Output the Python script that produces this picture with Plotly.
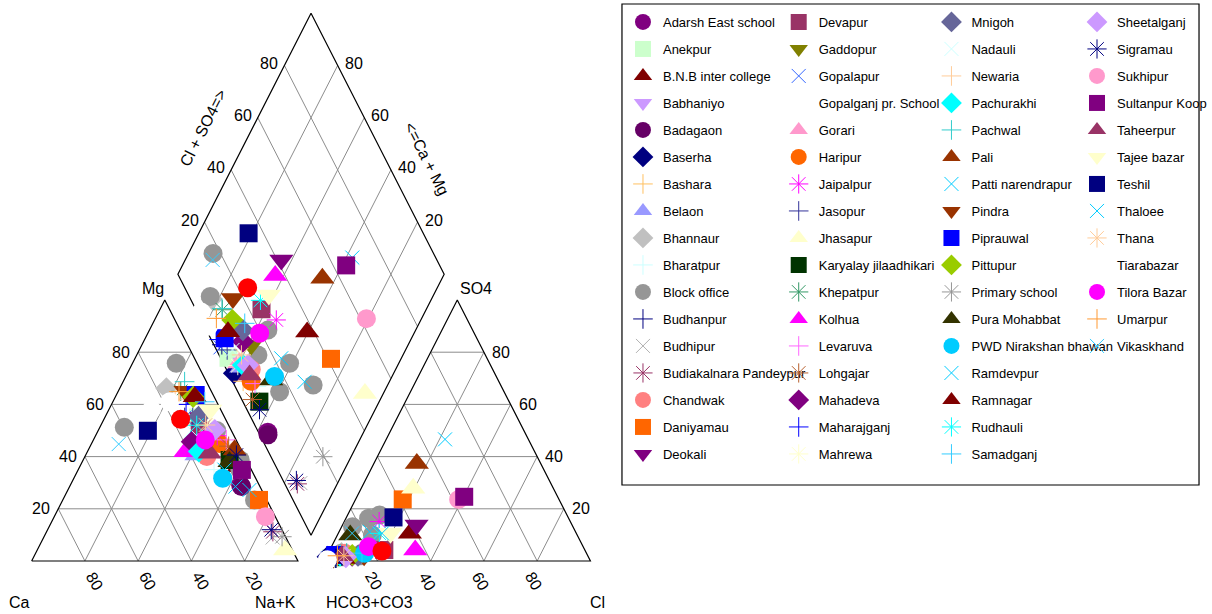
import plotly.graph_objects as go

# ---------------------------------------------------------------- legend / styles
sites = [
    "Adarsh East school", "Anekpur", "B.N.B inter college", "Babhaniyo", "Badagaon",
    "Baserha", "Bashara", "Belaon", "Bhannaur", "Bharatpur", "Block office",
    "Budhanpur", "Budhipur", "Budiakalnara Pandeypur", "Chandwak", "Daniyamau", "Deokali",
    "Devapur", "Gaddopur", "Gopalapur", "Gopalganj pr. School", "Gorari", "Haripur",
    "Jaipalpur", "Jasopur", "Jhasapur", "Karyalay jilaadhikari", "Khepatpur", "Kolhua",
    "Levaruva", "Lohgajar", "Mahadeva", "Maharajganj", "Mahrewa",
    "Mnigoh", "Nadauli", "Newaria", "Pachurakhi", "Pachwal", "Pali", "Patti narendrapur",
    "Pindra", "Piprauwal", "Pittupur", "Primary school", "Pura Mohabbat",
    "PWD Nirakshan bhawan", "Ramdevpur", "Ramnagar", "Rudhauli", "Samadganj",
    "Sheetalganj", "Sigramau", "Sukhipur", "Sultanpur Koop", "Taheerpur", "Tajee bazar",
    "Teshil", "Thaloee", "Thana", "Tiarabazar", "Tilora Bazar", "Umarpur", "Vikaskhand",
]
site_colors = [
    "#800080", "#CCFFCC", "#800000", "#CC99FF", "#660066",
    "#000080", "#FFC060", "#9999FF", "#C0C0C0", "#CCFFFF", "#969696",
    "#000080", "#B2B2B2", "#993366", "#FF8080", "#FF6600", "#800080",
    "#993366", "#808000", "#3366FF", "#FFFFFF", "#FF99CC", "#FF6600",
    "#FF00FF", "#333399", "#FFFFCC", "#003300", "#339966", "#FF00FF",
    "#FF66FF", "#B8602E", "#800080", "#0000FF", "#FFFFCC",
    "#666699", "#CCFFFF", "#FFCC99", "#00FFFF", "#33CCCC", "#993300", "#00CCFF",
    "#993300", "#0000FF", "#99CC00", "#969696", "#333300",
    "#00CCFF", "#00CCFF", "#800000", "#00FFFF", "#33CCFF",
    "#CC99FF", "#000080", "#FF99CC", "#800080", "#993366", "#FFFFCC",
    "#000080", "#00CCFF", "#FFCC99", "#FFFFFF", "#FF00FF", "#FF9933", "#33CCFF",
]
site_symbols = [
    "circle", "square", "triangle-up", "triangle-down", "circle",
    "diamond", "cross-thin-open", "triangle-up", "diamond", "cross-thin-open", "circle",
    "cross-thin-open", "x-thin-open", "asterisk-open", "circle", "square", "triangle-down",
    "square", "triangle-down", "x-thin-open", "circle", "triangle-up", "circle",
    "asterisk-open", "cross-thin-open", "triangle-up", "square", "asterisk-open", "triangle-up",
    "cross-thin-open", "asterisk-open", "diamond", "cross-thin-open", "asterisk-open",
    "diamond", "x-thin-open", "cross-thin-open", "diamond", "cross-thin-open", "triangle-up",
    "x-thin-open",
    "triangle-down", "square", "diamond", "asterisk-open", "triangle-up",
    "circle", "x-thin-open", "triangle-up", "asterisk-open", "cross-thin-open",
    "diamond", "asterisk-open", "circle", "square", "triangle-up", "triangle-down",
    "square", "x-thin-open", "asterisk-open", "circle", "circle", "cross-thin-open",
    "x-thin-open",
]
legend_rows = 17  # entries per legend column

# ---------------------------------------------------------------- samples (meq %)
sample_site = [
    "Adarsh East school", "Anekpur", "B.N.B inter college", "Babhaniyo", "Badagaon",
    "Baserha", "Bashara", "Belaon", "Bhannaur", "Bharatpur",
    "Block office", "Block office", "Block office", "Block office", "Block office",
    "Block office", "Block office",
    "Budhanpur", "Budhipur", "Budiakalnara Pandeypur", "Chandwak", "Daniyamau", "Deokali",
    "Devapur", "Gaddopur", "Gopalapur", "Gopalganj pr. School", "Gorari", "Haripur",
    "Jaipalpur", "Jasopur", "Jhasapur", "Karyalay jilaadhikari", "Khepatpur", "Kolhua",
    "Levaruva", "Lohgajar", "Mahadeva", "Maharajganj", "Mahrewa",
    "Mnigoh", "Nadauli", "Newaria", "Pachurakhi", "Pachwal", "Pali", "Patti narendrapur",
    "Pindra", "Piprauwal", "Pittupur", "Primary school", "Pura Mohabbat",
    "PWD Nirakshan bhawan", "Ramdevpur", "Ramnagar", "Rudhauli", "Samadganj",
    "Sheetalganj", "Sigramau", "Sigramau", "Sukhipur", "Sultanpur Koop", "Taheerpur",
    "Tajee bazar", "Teshil", "Thaloee", "Thana", "Tiarabazar", "Tilora Bazar", "Umarpur",
    "Vikaskhand", "",
]
ca = [
    7.0, 10.0, 4.3, 13.0, 6.9,
    12.0, 10.0, 17.8, 16.3, 14.0,
    39.6, 7.8, 9.5, 2.3, 4.6,
    4.3, 5.5,
    15.0, 5.0, 3.8, 14.2, 2.9, 8.9,
    11.9, 12.9, 15.0, 26.0, 15.0, 7.0,
    6.3, 12.0, 2.7, 6.3, 11.5, 21.3,
    3.7, 4.0, 17.0, 12.0, 8.0,
    9.6, 15.0, 15.1, 16.2, 8.2, 2.5, 9.2,
    9.7, 6.6, 7.9, 1.3, 6.7,
    12.4, 10.1, 7.3, 12.0, 4.5,
    6.1, 2.8, 4.0, 3.7, 3.6, 12.5,
    4.0, 31.4, 4.6, 8.6, 17.6, 11.6, 12.2,
    44.9, 16.9,
]
mg = [
    29.0, 55.0, 36.1, 45.0, 28.5,
    48.0, 45.0, 40.6, 66.2, 35.0,
    51.2, 75.8, 45.0, 38.7, 23.4,
    35.0, 50.0,
    55.0, 9.0, 11.2, 40.0, 23.4, 55.0,
    50.0, 46.0, 55.0, 58.0, 45.0, 45.0,
    48.0, 55.0, 4.2, 38.7, 65.0, 41.9,
    46.4, 44.0, 45.7, 60.0, 52.0,
    55.3, 50.0, 62.0, 42.0, 68.7, 42.5, 28.5,
    65.0, 63.6, 62.9, 9.3, 38.0,
    31.7, 35.0, 62.9, 52.0, 61.0,
    50.2, 40.6, 12.0, 17.0, 34.9, 41.3,
    57.9, 49.9, 27.2, 52.1, 61.0, 46.4, 64.9,
    44.8, 54.3,
]
na_k = [
    64.0, 35.0, 59.6, 42.0, 64.6,
    40.0, 45.0, 41.6, 17.5, 51.0,
    9.2, 16.4, 45.5, 59.0, 72.0,
    60.7, 44.5,
    30.0, 86.0, 85.0, 45.8, 73.7, 36.1,
    38.1, 41.1, 30.0, 16.0, 40.0, 48.0,
    45.7, 33.0, 93.1, 55.0, 23.5, 36.8,
    49.9, 52.0, 37.3, 28.0, 40.0,
    35.1, 35.0, 22.9, 41.8, 23.1, 55.0, 62.3,
    25.3, 29.8, 29.2, 89.4, 55.3,
    55.9, 54.9, 29.8, 36.0, 34.5,
    43.7, 56.6, 84.0, 79.3, 61.5, 46.2,
    38.1, 18.7, 68.2, 39.3, 21.4, 42.0, 22.9,
    10.3, 28.8,
]
hco3 = [
    96.5, 97.0, 62.5, 92.0, 96.9,
    97.9, 96.0, 94.0, 92.0, 92.0,
    82.8, 92.1, 85.4, 75.1, 70.4,
    84.3, 76.9,
    97.0, 94.0, 95.3, 90.7, 58.7, 58.4,
    75.3, 86.0, 98.0, 98.5, 94.0, 93.0,
    71.8, 96.0, 52.6, 93.8, 90.1, 63.7,
    92.0, 96.0, 88.5, 97.0, 95.0,
    86.3, 94.0, 94.0, 93.0, 90.0, 46.5, 31.3,
    84.0, 94.7, 88.3, 80.5, 85.2,
    83.3, 77.3, 92.2, 74.0, 84.3,
    91.1, 95.3, 95.0, 37.7, 35.1, 92.4,
    69.8, 65.6, 73.0, 91.6, 98.5, 80.6, 94.0,
    84.2, 76.4,
]
so4 = [
    1.5, 1.0, 10.6, 3.0, 1.6,
    1.6, 1.0, 2.0, 3.0, 2.0,
    13.1, 3.0, 2.0, 16.4, 17.6,
    3.0, 10.0,
    1.0, 1.0, 1.0, 3.0, 23.6, 13.8,
    4.2, 3.0, 1.0, 0.5, 2.0, 2.0,
    15.1, 1.0, 27.9, 1.5, 3.0, 4.2,
    2.0, 1.0, 2.0, 1.0, 1.0,
    2.0, 2.0, 2.0, 2.0, 3.0, 37.4, 46.6,
    2.0, 2.3, 2.3, 5.0, 10.0,
    3.0, 11.2, 1.0, 10.6, 3.0,
    1.5, 1.0, 1.0, 23.6, 24.6, 2.0,
    10.6, 16.7, 10.6, 2.0, 0.5, 5.5, 2.0,
    10.6, 3.8,
]
cl = [
    2.0, 2.0, 26.9, 5.0, 1.5,
    0.5, 3.0, 4.0, 5.0, 6.0,
    4.1, 4.9, 12.6, 8.5, 12.0,
    12.7, 13.1,
    2.0, 5.0, 3.7, 6.3, 17.7, 27.8,
    20.5, 11.0, 1.0, 1.0, 4.0, 5.0,
    13.1, 3.0, 19.5, 4.7, 6.9, 32.1,
    6.0, 3.0, 9.5, 2.0, 4.0,
    11.7, 4.0, 4.0, 5.0, 7.0, 16.1, 22.1,
    14.0, 3.0, 9.4, 14.5, 4.8,
    13.7, 11.5, 6.8, 15.4, 12.7,
    7.4, 3.7, 4.0, 38.7, 40.3, 5.6,
    19.6, 17.7, 16.4, 6.4, 1.0, 13.9, 4.0,
    5.2, 19.8,
]

# ---------------------------------------------------------------- piper geometry
# x: triangle side = 100 units, y: triangle height = 100 units
GAP = 9.86
X0 = 100 + GAP  # left corner of the anion triangle

PX_LEFT, PX_BASE, UX, UY = 31.7, 561.0, 2.667, 2.61  # figure px of origin, px per unit
W, H = 1212, 614


def cation_xy(mg_, nak_):
    return nak_ + mg_ / 2.0, mg_


def anion_xy(so4_, cl_):
    return X0 + cl_ + so4_ / 2.0, so4_


def diamond_xy(nak_, anion_sum):
    return (nak_ + X0 + anion_sum) / 2.0, X0 + anion_sum - nak_


def px(xp, yp):
    """figure pixel -> data coordinates"""
    return (xp - PX_LEFT) / UX, (PX_BASE - yp) / UY


fig = go.Figure()

# grid lines
gx, gy = [], []


def seg(p, q):
    gx.extend([p[0], q[0], None])
    gy.extend([p[1], q[1], None])


for k in (20, 40, 60, 80):
    for off in (0, X0):
        seg((off + k / 2, k), (off + 100 - k / 2, k))
        seg((off + k, 0), (off + k + (100 - k) / 2, 100 - k))
        seg((off + 100 - k, 0), (off + (100 - k) / 2, 100 - k))
    seg(diamond_xy(k, 0), diamond_xy(k, 100))
    seg(diamond_xy(0, k), diamond_xy(100, k))

fig.add_trace(go.Scatter(x=gx, y=gy, mode="lines", line=dict(color="#8c8c8c", width=1),
                         hoverinfo="skip", showlegend=False))

# outlines
ox, oy = [], []
for off in (0, X0):
    ox += [off, off + 100, off + 50, off, None]
    oy += [0, 0, 100, 0, None]
corners = [diamond_xy(100, 0), diamond_xy(100, 100), diamond_xy(0, 100), diamond_xy(0, 0),
           diamond_xy(100, 0)]
ox += [c[0] for c in corners]
oy += [c[1] for c in corners]
fig.add_trace(go.Scatter(x=ox, y=oy, mode="lines", line=dict(color="black", width=1.2),
                         hoverinfo="skip", showlegend=False))

# sample markers
marker_size = {"circle": 19, "square": 18, "triangle-up": 21, "triangle-down": 21,
               "diamond": 17, "cross-thin-open": 14, "x-thin-open": 14, "asterisk-open": 16}


def points_for(name):
    xs, ys = [], []
    idx = [i for i, s in enumerate(sample_site) if s == name]
    for i in idx:
        x, y = cation_xy(mg[i], na_k[i])
        xs.append(x); ys.append(y)
    for i in idx:
        x, y = anion_xy(so4[i], cl[i])
        xs.append(x); ys.append(y)
    for i in idx:
        x, y = diamond_xy(na_k[i], so4[i] + cl[i])
        xs.append(x); ys.append(y)
    return xs, ys


for j, (name, col, sym) in enumerate(zip(sites, site_colors, site_symbols)):
    xs, ys = points_for(name)
    lg = "legend" if j < legend_rows else "legend%d" % (j // legend_rows + 1)
    line_marker = sym.endswith("-open")
    fig.add_trace(go.Scatter(
        x=xs, y=ys, mode="markers", name=name, legend=lg, legendgroup=name,
        marker=dict(symbol=sym, size=marker_size[sym], color=col,
                    line=dict(color=col, width=1 if line_marker else 0)),
    ))

xs, ys = points_for("")
fig.add_trace(go.Scatter(x=xs, y=ys, mode="markers", showlegend=False,
                         marker=dict(symbol="circle", size=19, color="#FF0000",
                                     line=dict(width=0))))

# ---------------------------------------------------------------- labels
FONT = "Liberation Sans, Arial, sans-serif"
ann = []


def label(x, y, text, **kw):
    d = dict(x=x, y=y, text=text, showarrow=False, xref="x", yref="y",
             font=dict(family=FONT, size=16, color="black"))
    d.update(kw)
    ann.append(d)


for k in (20, 40, 60, 80):
    label(k / 2, k, str(k), xanchor="right", xshift=-6)                     # Mg
    label(X0 + 100 - k / 2, k, str(k), xanchor="left", xshift=6)            # SO4
    label(100 - k, 0, str(k), textangle=60, xshift=10, yshift=-20)          # Ca
    label(X0 + k, 0, str(k), textangle=60, xshift=-3, yshift=-20)           # Cl
    x, y = diamond_xy(0, k)
    label(x, y, str(k), xanchor="right", xshift=-4, yshift=2)               # Cl + SO4
    x, y = diamond_xy(100 - k, 100)
    label(x, y, str(k), xanchor="left", xshift=5, yshift=2)                 # Ca + Mg

for txt, (xp, yp), ang in [("Ca", (20, 602), 0), ("Na+K", (276, 602), 0),
                           ("HCO3+CO3", (370, 602), 0), ("Cl", (598, 602), 0),
                           ("Mg", (153, 288), 0), ("SO4", (477, 288), 0),
                           ("Cl + SO4=>", (203, 128), -63), ("<=Ca + Mg", (428, 159), 63)]:
    x, y = px(xp, yp)
    label(x, y, txt, textangle=ang)

# ---------------------------------------------------------------- layout
x_lo, _ = px(0, 0)
x_hi, _ = px(W, 0)
_, y_hi = px(0, 0)
_, y_lo = px(0, H)

legends = {}
for c, left in enumerate([624, 780, 933, 1079]):
    key = "legend" if c == 0 else "legend%d" % (c + 1)
    legends[key] = dict(x=left / W, y=1 - 7 / H, xanchor="left", yanchor="top",
                        bgcolor="rgba(0,0,0,0)", borderwidth=0, traceorder="grouped",
                        tracegroupgap=7.1, font=dict(family=FONT, size=13, color="black"))

fig.update_layout(
    width=W, height=H, margin=dict(l=0, r=0, t=0, b=0),
    paper_bgcolor="white", plot_bgcolor="white",
    xaxis=dict(range=[x_lo, x_hi], visible=False, fixedrange=True),
    yaxis=dict(range=[y_lo, y_hi], visible=False, fixedrange=True),
    annotations=ann,
    shapes=[dict(type="rect", xref="paper", yref="paper",
                 x0=623 / W, x1=1201 / W, y0=1 - 485 / H, y1=1 - 4 / H,
                 line=dict(color="black", width=1.2))],
    **legends,
)

fig.write_html("out.html")
